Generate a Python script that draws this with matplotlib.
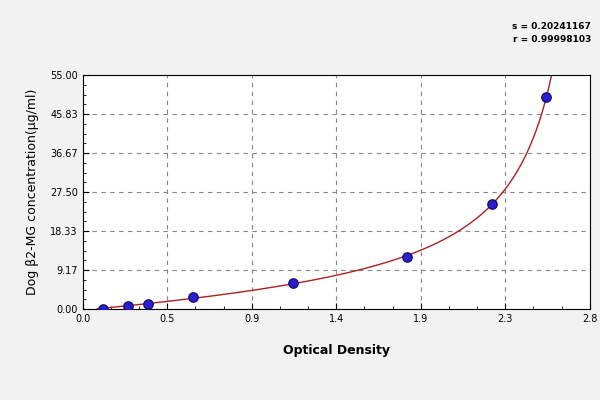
import numpy as np
import matplotlib
matplotlib.use("Agg")
import matplotlib.pyplot as plt

od = [0.11, 0.25, 0.36, 0.61, 1.16, 1.79, 2.26, 2.56]
conc = [0.0, 0.8, 1.25, 2.96, 6.1, 12.25, 24.8, 49.8]
xticks = [0.0, 0.4667, 0.9333, 1.4, 1.8667, 2.3333, 2.8]
xlabels = ["0.0", "0.5", "0.9", "1.4", "1.9", "2.3", "2.8"]
yticks = [0.0, 9.17, 18.33, 27.50, 36.67, 45.83, 55.00]
ylabels = ["0.00", "9.17", "18.33", "27.50", "36.67", "45.83", "55.00"]

# fit y = A*x/(B-x) + C*x + D, grid over B
x = np.array(od); y = np.array(conc)
best = None
for B in np.linspace(2.57, 3.2, 400):
    M = np.column_stack([x / (B - x), x, np.ones_like(x)])
    coef, *_ = np.linalg.lstsq(M, y, rcond=None)
    err = np.sum((M @ coef - y) ** 2)
    if best is None or err < best[0]:
        best = (err, B, coef)
_, B, coef = best
xs = np.linspace(0.08, min(B - 0.005, 2.8), 600)
ys = coef[0] * xs / (B - xs) + coef[1] * xs + coef[2]

fig = plt.figure(figsize=(6, 4), dpi=100, facecolor="#f2f2f2")
ax = fig.add_axes([0.138, 0.227, 0.845, 0.585])
ax.plot(xs, ys, color="#b02020", lw=1)
ax.scatter(od, conc, s=45, color="#2a1fd0", edgecolors="#1a1070", zorder=3)
ax.set_xlim(0, 2.8)
ax.set_ylim(0, 55)
ax.set_xticks(xticks, xlabels, fontsize=7)
ax.set_yticks(yticks, ylabels, fontsize=7)
ax.set_xticks(np.arange(0, 2.8, 0.4667 / 3), minor=True)
ax.set_yticks(np.arange(0, 55, 9.1667 / 4), minor=True)
ax.tick_params(direction="in", length=4)
ax.tick_params(which="minor", direction="in", length=2)
ax.grid(True, which="major", ls=(0, (4, 4)), color="#888888", lw=0.8)
ax.set_xlabel("Optical Density", fontsize=9, fontweight="bold", labelpad=14)
ax.set_ylabel("Dog β2-MG concentration(μg/ml)", fontsize=9, labelpad=8)
fig.text(0.985, 0.895, "s = 0.20241167\nr = 0.99998103", ha="right", fontsize=6.5, fontweight="bold", linespacing=1.6)
fig.savefig("out.png", dpi=100, facecolor=fig.get_facecolor())
